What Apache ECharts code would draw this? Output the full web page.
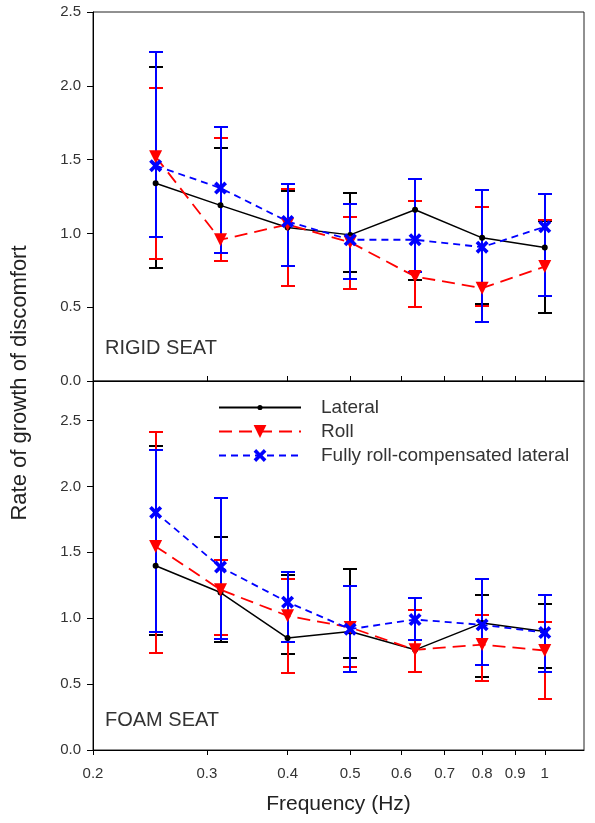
<!DOCTYPE html>
<html>
<head>
<meta charset="utf-8">
<script src="https://cdn.jsdelivr.net/npm/echarts@6/dist/echarts.min.js"></script>
<style>
  html, body { margin: 0; padding: 0; background: #fff; }
  #main { width: 595px; height: 823px; }
</style>
</head>
<body>
<div id="main"></div>
<script>
// frequencies (Hz) and axis ticks
var freqs = [0.25, 0.315, 0.4, 0.5, 0.63, 0.8, 1.0];
var freqTicks = [0.2, 0.3, 0.4, 0.5, 0.6, 0.7, 0.8, 0.9, 1];
var rateTicks = [0, 0.5, 1.0, 1.5, 2.0, 2.5];
var seriesNames = ['Lateral', 'Roll', 'Fully roll-compensated lateral'];

// rigid seat
var rigidLateral     = [1.34, 1.19, 1.04, 0.99, 1.16, 0.97, 0.905];
var rigidLateralLow  = [0.765, 0.866, 0.78, 0.737, 0.685, 0.52, 0.463];
var rigidLateralHigh = [2.13, 1.58, 1.29, 1.277, 1.368, 1.178, 1.085];
var rigidRoll        = [1.52, 0.957, 1.06, 0.94, 0.708, 0.629, 0.775];
var rigidRollLow     = [0.826, 0.814, 0.645, 0.622, 0.50, 0.511, 0.577];
var rigidRollHigh    = [1.985, 1.646, 1.30, 1.113, 1.219, 1.178, 1.088];
var rigidComp        = [1.459, 1.307, 1.081, 0.957, 0.957, 0.907, 1.045];
var rigidCompLow     = [0.975, 0.866, 0.78, 0.692, 0.74, 0.402, 0.577];
var rigidCompHigh    = [2.23, 1.723, 1.336, 1.196, 1.37, 1.291, 1.269];

// foam seat
var foamLateral     = [1.398, 1.195, 0.849, 0.899, 0.76, 0.963, 0.899];
var foamLateralLow  = [0.874, 0.823, 0.727, 0.701, 0.595, 0.552, 0.62];
var foamLateralHigh = [2.31, 1.616, 1.325, 1.373, 1.06, 1.173, 1.107];
var foamRoll        = [1.545, 1.216, 1.018, 0.93, 0.76, 0.80, 0.755];
var foamRollLow     = [0.739, 0.874, 0.583, 0.633, 0.595, 0.527, 0.385];
var foamRollHigh    = [2.41, 1.438, 1.30, 1.246, 1.064, 1.026, 0.97];
var foamComp        = [1.803, 1.388, 1.122, 0.917, 0.99, 0.95, 0.891];
var foamCompLow     = [0.899, 0.841, 0.823, 0.59, 0.836, 0.646, 0.595];
var foamCompHigh    = [2.274, 1.912, 1.347, 1.246, 1.157, 1.30, 1.173];

var FONT = 'Liberation Sans, Arial, sans-serif';
var xMin = Math.log10(0.2);
var xMax = Math.log10(1.15);
var logTicks = freqTicks.map(function (f) { return Math.log10(f); });

// small dot inside a padded box, so the legend dot stays small too
var dotPath = 'path://M0,0 L0.01,0 M10,10 L10.01,10 M3,5 A2,2 0 1,1 7,5 A2,2 0 1,1 3,5 Z';
var crossPath = 'path://M2,0 L5,3 L8,0 L10,2 L7,5 L10,8 L8,10 L5,7 L2,10 L0,8 L3,5 L0,2 Z';
var styles = [
    { color: '#000000', dash: 'solid', width: 1.5, symbol: dotPath, size: 15, rotate: 0 },
    { color: '#ff0000', dash: [13, 7], width: 1.8, symbol: 'triangle', size: 13, rotate: 180 },
    { color: '#0000ff', dash: [7, 5], width: 1.8, symbol: crossPath, size: 13, rotate: 0 }
];

function lineSeries(idx, means, grid) {
    var s = styles[idx];
    return {
        name: seriesNames[idx],
        type: 'line',
        xAxisIndex: grid === 0 ? 0 : 1,
        yAxisIndex: grid,
        z: 4,
        symbol: s.symbol,
        symbolSize: s.size,
        symbolRotate: s.rotate,
        showAllSymbol: true,
        itemStyle: { color: s.color },
        lineStyle: { color: s.color, width: s.width, type: s.dash },
        data: freqs.map(function (f, i) { return [Math.log10(f), means[i]]; })
    };
}

function renderErrorBar(params, api) {
    var x = api.value(0);
    var lo = api.coord([x, api.value(1)]);
    var hi = api.coord([x, api.value(2)]);
    var cx = Math.round(lo[0]);
    var yl = Math.round(lo[1]);
    var yh = Math.round(hi[1]);
    var cap = 7;
    var style = { stroke: api.visual('color'), lineWidth: 2 };
    return {
        type: 'group',
        children: [
            { type: 'line', shape: { x1: cx, y1: yl, x2: cx, y2: yh }, style: style },
            { type: 'line', shape: { x1: cx - cap, y1: yl, x2: cx + cap, y2: yl }, style: style },
            { type: 'line', shape: { x1: cx - cap, y1: yh, x2: cx + cap, y2: yh }, style: style }
        ]
    };
}

function barSeries(idx, low, high, grid) {
    return {
        name: seriesNames[idx],
        type: 'custom',
        xAxisIndex: grid === 0 ? 0 : 1,
        yAxisIndex: grid,
        z: 2,
        itemStyle: { color: styles[idx].color },
        renderItem: renderErrorBar,
        encode: { x: 0, y: [1, 2] },
        data: freqs.map(function (f, i) { return [Math.log10(f), low[i], high[i]]; })
    };
}

function freqLabel(v) {
    return String(Math.round(Math.pow(10, v) * 10) / 10);
}

var myChart = echarts.init(document.getElementById('main'));

var option = {
    backgroundColor: '#ffffff',
    animation: false,
    textStyle: { fontFamily: FONT },
    title: [
        { text: 'RIGID SEAT', left: 105, top: 338, padding: 0,
          textStyle: { fontFamily: FONT, fontSize: 20, fontWeight: 'normal', color: '#333' } },
        { text: 'FOAM SEAT', left: 105, top: 710, padding: 0,
          textStyle: { fontFamily: FONT, fontSize: 20, fontWeight: 'normal', color: '#333' } }
    ],
    legend: {
        data: seriesNames,
        orient: 'vertical',
        left: 218,
        top: 398,
        padding: 0,
        itemWidth: 82,
        itemHeight: 16,
        itemGap: 5,
        textStyle: { fontFamily: FONT, fontSize: 19, color: '#333', padding: [0, 0, 0, 15] }
    },
    grid: [
        { left: 93, right: 11, top: 12, height: 369, show: true, borderColor: '#222', borderWidth: 1 },
        { left: 93, right: 11, top: 381, height: 369, show: true, borderColor: '#222', borderWidth: 1 }
    ],
    xAxis: [
        {
            gridIndex: 0, type: 'value', min: xMin, max: xMax,
            axisLine: { show: false }, axisTick: { show: false },
            axisLabel: { show: false }, splitLine: { show: false }
        },
        {
            gridIndex: 1, type: 'value', min: xMin, max: xMax, position: 'bottom',
            name: 'Frequency (Hz)', nameLocation: 'middle', nameGap: 44,
            nameTextStyle: { fontFamily: FONT, fontSize: 21, color: '#222' },
            axisLine: { show: true, onZero: false, lineStyle: { color: '#000', width: 1 } },
            axisTick: { show: true, length: 5, customValues: logTicks, lineStyle: { color: '#000' } },
            axisLabel: { customValues: logTicks, formatter: freqLabel, margin: 16,
                         fontFamily: FONT, fontSize: 15, color: '#333' },
            splitLine: { show: false }
        },
        {
            gridIndex: 1, type: 'value', min: xMin, max: xMax, position: 'top',
            axisLine: { show: true, onZero: false, lineStyle: { color: '#000', width: 1 } },
            axisTick: { show: true, length: 5, customValues: logTicks, lineStyle: { color: '#000' } },
            axisLabel: { show: false }, splitLine: { show: false }
        }
    ],
    yAxis: [
        {
            gridIndex: 0, type: 'value', min: 0, max: 2.5, interval: 0.5,
            axisLine: { show: true, onZero: false, lineStyle: { color: '#000', width: 1 } },
            axisTick: { show: true, length: 6, lineStyle: { color: '#000' } },
            axisLabel: { formatter: function (v) { return v.toFixed(1); }, margin: 12,
                         fontFamily: FONT, fontSize: 15, color: '#333' },
            splitLine: { show: false }
        },
        {
            gridIndex: 1, type: 'value', min: 0, max: 2.8,
            axisLine: { show: true, onZero: false, lineStyle: { color: '#000', width: 1 } },
            axisTick: { show: true, length: 6, customValues: rateTicks, lineStyle: { color: '#000' } },
            axisLabel: { customValues: rateTicks, formatter: function (v) { return v.toFixed(1); }, margin: 12,
                         fontFamily: FONT, fontSize: 15, color: '#333' },
            splitLine: { show: false }
        }
    ],
    graphic: [
        {
            type: 'text', x: 20, y: 383, rotation: Math.PI / 2,
            style: { text: 'Rate of growth of discomfort', fill: '#222',
                     font: '22px ' + FONT, align: 'center', verticalAlign: 'middle' }
        }
    ],
    series: [
        lineSeries(0, rigidLateral, 0),
        lineSeries(1, rigidRoll, 0),
        lineSeries(2, rigidComp, 0),
        lineSeries(0, foamLateral, 1),
        lineSeries(1, foamRoll, 1),
        lineSeries(2, foamComp, 1),
        barSeries(0, rigidLateralLow, rigidLateralHigh, 0),
        barSeries(1, rigidRollLow, rigidRollHigh, 0),
        barSeries(2, rigidCompLow, rigidCompHigh, 0),
        barSeries(0, foamLateralLow, foamLateralHigh, 1),
        barSeries(1, foamRollLow, foamRollHigh, 1),
        barSeries(2, foamCompLow, foamCompHigh, 1)
    ]
};

myChart.setOption(option);
</script>
</body>
</html>
